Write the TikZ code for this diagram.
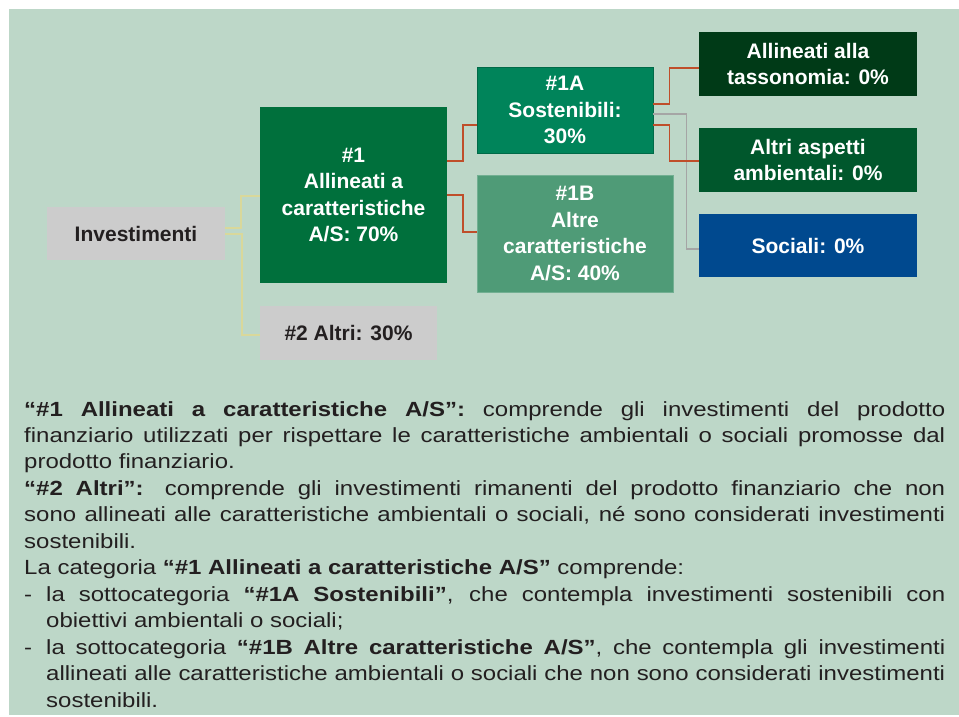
\documentclass[tikz,border=0pt]{standalone}
\usepackage{fontspec}
\setmainfont{Liberation Sans}
\newfontfamily\bodyfont{Liberation Sans}[FakeStretch=1.17]
\usetikzlibrary{positioning}

\definecolor{bggreen}{HTML}{BDD7C8}
\definecolor{boxgrey}{HTML}{CCCCCC}
\definecolor{textdark}{HTML}{231F20}
\definecolor{onegreen}{HTML}{00703C}
\definecolor{oneAgreen}{HTML}{00845A}
\definecolor{oneBgreen}{HTML}{4F9B77}
\definecolor{taxgreen}{HTML}{003A17}
\definecolor{envgreen}{HTML}{00572C}
\definecolor{socblue}{HTML}{00498F}
\definecolor{linkred}{HTML}{BF4E2A}
\definecolor{linkyellow}{HTML}{D9D89B}
\definecolor{linkgrey}{HTML}{A5A5A5}

\begin{document}
\begin{tikzpicture}[x=1pt, y=-1pt,
      box/.style={rectangle, inner sep=0pt, align=center, text=white,
        font=\fontsize{21}{26.5}\selectfont\bfseries},
      greybox/.style={box, fill=boxgrey, text=textdark},
      link/.style={line width=1.5pt, draw=linkred},
      sublink/.style={line width=1.5pt, draw=linkyellow},
      greylink/.style={line width=1.2pt, draw=linkgrey}]

      % Background
      \useasboundingbox (0,0) rectangle (959,716);
      \fill[white] (0,0) rectangle (959,716);
      \fill[bggreen] (9,9) rectangle (959,715);

      % Boxes
      \node[greybox, minimum width=178pt, minimum height=53pt] (inv) at (136,233.5) {Investimenti};
      \node[box, fill=onegreen, minimum width=187pt, minimum height=176pt] (one) at (353.5,195)
        {\#1\\Allineati a\\caratteristiche\\A/S: 70\%};
      \node[greybox, minimum width=177pt, minimum height=54pt] (two) at (348.5,333) {\#2 Altri: 30\%};
      \node[box, fill=oneAgreen, draw=oneAgreen!80!black, line width=0.8pt,
        minimum width=176pt, minimum height=86pt] (oneA) at (565,110)
        {\#1A\\Sostenibili:\\30\%};
      \node[box, fill=oneBgreen, draw=oneBgreen!80!white, line width=0.8pt,
        minimum width=196pt, minimum height=117pt] (oneB) at (575,233.5)
        {\#1B\\Altre\\caratteristiche\\A/S: 40\%};
      \node[box, fill=taxgreen, minimum width=218pt, minimum height=64pt] (tax) at (808,64)
        {Allineati alla\\tassonomia: 0\%};
      \node[box, fill=envgreen, minimum width=218pt, minimum height=64pt] (env) at (808,160)
        {Altri aspetti\\ambientali: 0\%};
      \node[box, fill=socblue, minimum width=218pt, minimum height=63pt] (soc) at (808,245.5)
        {Sociali: 0\%};

      % Connectors
      \draw[sublink] ([yshift=5.5pt]inv.east) -- ++(16,0) |- ([yshift=-1pt]one.west);
      \draw[sublink] ([yshift=-0.5pt]inv.east) -- ++(17,0) |- ([yshift=-2pt]two.west);
      \draw[link] ([yshift=34pt]one.east) -- ++(16,0) |- ([yshift=-15pt]oneA.west);
      \draw[link] (one.east) -- ++(16,0) |- ([yshift=1.5pt]oneB.west);
      \draw[greylink] ([yshift=-4pt]oneA.east) -- ++(33,0) |- ([yshift=-3.5pt]soc.west);
      \draw[link] ([yshift=6pt]oneA.east) -- ++(16,0) |- ([yshift=-4pt]tax.west);
      \draw[link] ([yshift=-15pt]oneA.east) -- ++(16,0) |- ([yshift=-1pt]env.west);

      % Legend
      \node[anchor=north west, inner sep=0pt, text width=921pt, align=justify, text=textdark,
        font=\bodyfont\fontsize{20.5}{26.45}\selectfont] (legend) at (24,401) {%
        \parindent=0pt\hyphenpenalty=10000
        {\bfseries “\#1 Allineati a caratteristiche A/S”:} comprende gli investimenti del prodotto\linebreak
        finanziario utilizzati per rispettare le caratteristiche ambientali o sociali promosse dal\linebreak
        prodotto finanziario.\par
        {\bfseries “\#2 Altri”:} comprende gli investimenti rimanenti del prodotto finanziario che non\linebreak
        sono allineati alle caratteristiche ambientali o sociali, né sono considerati investimenti\linebreak
        sostenibili.\par
        La categoria {\bfseries “\#1 Allineati a caratteristiche A/S”} comprende:\par
        \hangindent=22pt\hangafter=1
        \makebox[22pt][l]{-}la sottocategoria {\bfseries “\#1A Sostenibili”}, che contempla investimenti sostenibili con\linebreak
        obiettivi ambientali o sociali;\par
        \hangindent=22pt\hangafter=1
        \makebox[22pt][l]{-}la sottocategoria {\bfseries “\#1B Altre caratteristiche A/S”}, che contempla gli investimenti\linebreak
        allineati alle caratteristiche ambientali o sociali che non sono considerati investimenti\linebreak
        sostenibili.\par};
    \end{tikzpicture}
\end{document}
